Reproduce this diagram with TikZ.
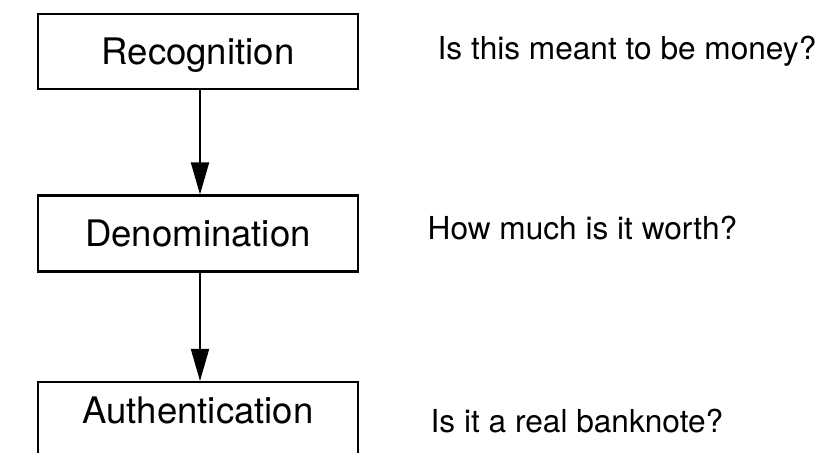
\documentclass[tikz,border=0pt]{standalone}
\usepackage{fontspec}
\setmainfont{TeX Gyre Heros}
\usetikzlibrary{arrows.meta}

\tikzset{
    stage/.style={draw, line width=0.6pt, minimum width=32mm, minimum height=7.6mm,
        inner sep=0pt, text height=2.5mm, text depth=0pt, font=\fontsize{10.4}{12}\selectfont},
    question/.style={anchor=base west, inner sep=0pt, font=\fontsize{9}{11}\selectfont},
    flow/.style={line width=0.55pt, -{Triangle[length=3.2mm,width=1.8mm]}}
}

\begin{document}
\begin{tikzpicture}[x=0.1mm,y=-0.1mm]
    \useasboundingbox (0,0) rectangle (815,452);
    \clip (0,0) rectangle (815,452);

    % Stages
    \node[stage, minimum height=7.5mm] (rec) at (198,51.5) {Recognition};
    \node[stage] (den) at (198,233.5) {Denomination};
    \node[stage, text depth=1.9mm] (auth) at (198,420) {Authentication};

    % Questions
    \node[question] (qrec) at (437,59) {Is this meant to be money?};
    \node[question] (qden) at (427,239) {How much is it worth?};
    \node[question] (qauth) at (430,432) {Is it a real banknote?};

    % Arrows between stages
    \draw[flow] (rec.south -| 200,0) -- (den.north -| 200,0);
    \draw[flow] (den.south -| 200,0) -- (auth.north -| 200,0);
\end{tikzpicture}
\end{document}
